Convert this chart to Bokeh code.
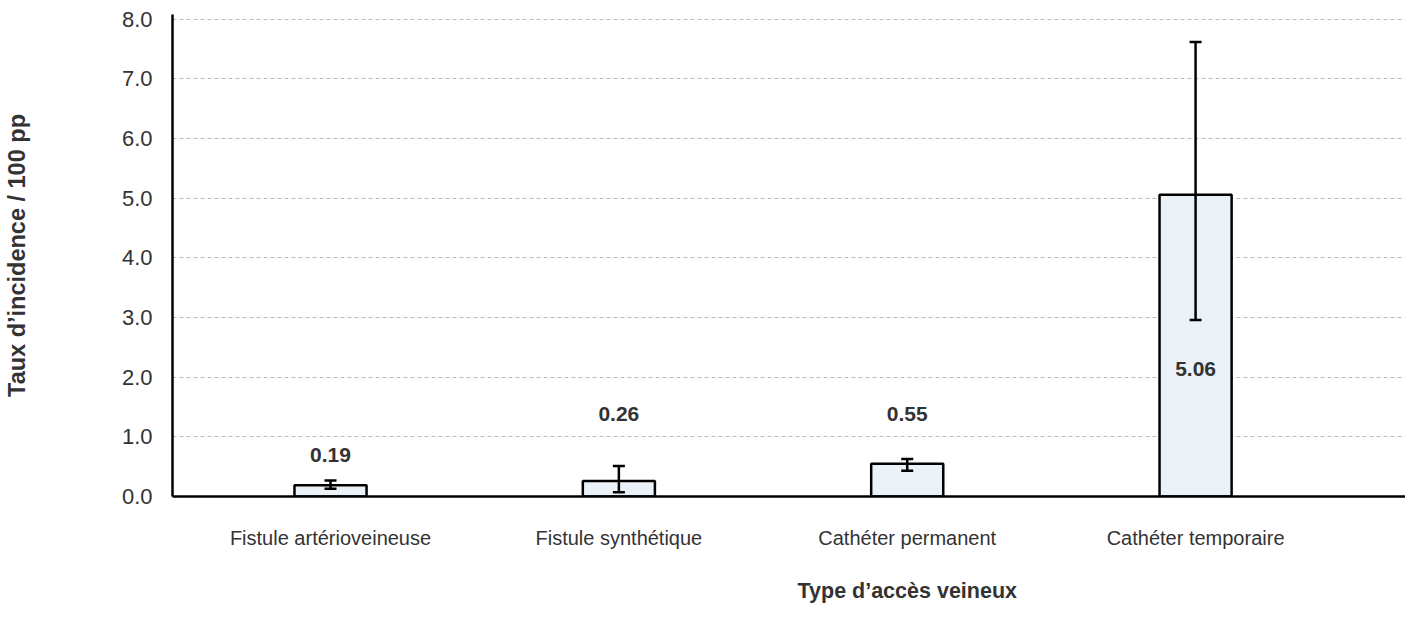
from bokeh.plotting import figure
from bokeh.models import (Range1d, ColumnDataSource, Whisker, TeeHead,
                          FixedTicker, PrintfTickFormatter, LabelSet, Title)
from bokeh.core.properties import value
from bokeh.embed import file_html
from bokeh.resources import INLINE

categories = ["Fistule artérioveineuse", "Fistule synthétique",
              "Cathéter permanent", "Cathéter temporaire"]
rates = [0.19, 0.26, 0.55, 5.06]
lower = [0.13, 0.07, 0.43, 2.96]
upper = [0.27, 0.51, 0.63, 7.62]
label_y = [0.69, 1.39, 1.39, 2.14]
y_ticks = [0, 1, 2, 3, 4, 5, 6, 7, 8]

xs = list(range(len(categories)))
src = ColumnDataSource(dict(
    x=xs, top=rates, lower=lower, upper=upper, ly=label_y,
    txt=[f"{v:.2f}" for v in rates],
))

FONT = "Liberation Sans"

p = figure(width=1405, height=627, output_backend="svg", toolbar_location=None,
           x_range=Range1d(-0.548, 3.728), y_range=Range1d(0, 8.08),
           min_border_left=172, min_border_right=0, min_border_top=14,
           min_border_bottom=131, outline_line_color=None)

p.vbar(x="x", top="top", bottom=0, width=0.25, source=src,
       fill_color="#EAF2F8", line_color="black", line_width=2.5)

w = Whisker(base="x", lower="lower", upper="upper", source=src,
            line_color="black", line_width=2.5, level="overlay",
            upper_head=TeeHead(size=12, line_color="black", line_width=2.5),
            lower_head=TeeHead(size=12, line_color="black", line_width=2.5))
p.add_layout(w)

labels = LabelSet(x="x", y="ly", text="txt", source=src,
                  text_align="center", text_baseline="middle",
                  text_font=value(FONT), text_font_style="bold",
                  text_font_size="21px", text_color="#333333")
p.add_layout(labels)

# grid
p.xgrid.visible = False
p.ygrid.grid_line_color = "#bbbbbb"
p.ygrid.grid_line_dash = "4 3"
p.ygrid.grid_line_width = 1
p.ygrid.ticker = FixedTicker(ticks=y_ticks[1:])

# y axis
p.yaxis.ticker = FixedTicker(ticks=y_ticks)
p.yaxis.formatter = PrintfTickFormatter(format="%.1f")
p.yaxis.axis_line_color = "black"
p.yaxis.axis_line_width = 2.5
p.yaxis.major_tick_line_color = None
p.yaxis.minor_tick_line_color = None
p.yaxis.major_tick_out = 0
p.yaxis.major_tick_in = 0
p.yaxis.major_label_standoff = 20
p.yaxis.major_label_text_font = FONT
p.yaxis.major_label_text_font_size = "22px"
p.yaxis.major_label_text_color = "#333333"
p.yaxis.axis_label = "Taux d\u2019incidence / 100 pp"
p.yaxis.axis_label_text_font = FONT
p.yaxis.axis_label_text_font_style = "bold"
p.yaxis.axis_label_text_font_size = "23.5px"
p.yaxis.axis_label_text_color = "#333333"
p.yaxis.axis_label_standoff = 89

# x axis
p.xaxis.ticker = FixedTicker(ticks=xs)
p.xaxis.major_label_overrides = {i: c for i, c in enumerate(categories)}
p.xaxis.axis_line_color = "black"
p.xaxis.axis_line_width = 2.5
p.xaxis.major_tick_line_color = None
p.xaxis.minor_tick_line_color = None
p.xaxis.major_tick_out = 0
p.xaxis.major_tick_in = 0
p.xaxis.major_label_standoff = 30
p.xaxis.major_label_text_font = FONT
p.xaxis.major_label_text_font_size = "20px"
p.xaxis.major_label_text_color = "#333333"

xtitle = Title(text="Type d\u2019accès veineux", align="left", offset=625,
               text_font=FONT, text_font_style="bold", text_font_size="21.5px",
               text_color="#333333", standoff=50)
p.add_layout(xtitle, "below")

open("out.html", "w").write(file_html(p, INLINE))
